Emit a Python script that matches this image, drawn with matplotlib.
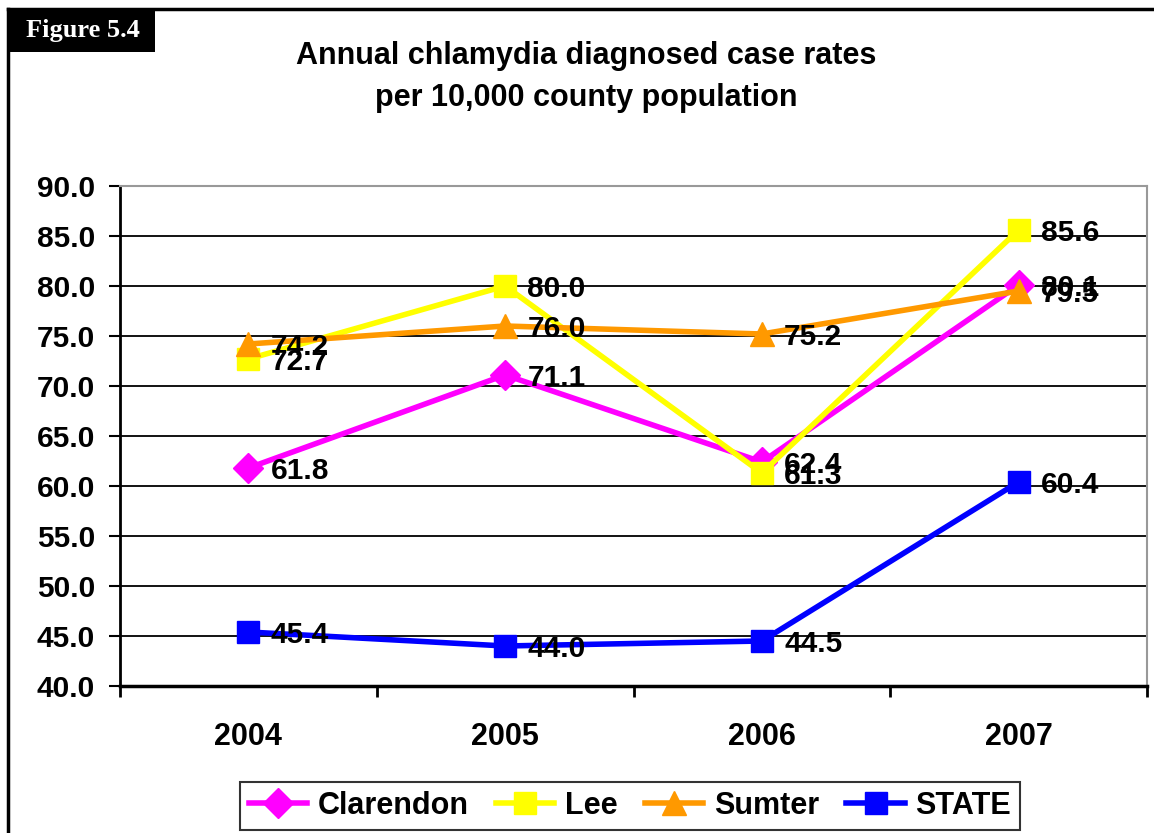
import numpy as np
import matplotlib.pyplot as plt
from matplotlib.lines import Line2D
from matplotlib.patches import Rectangle

plt.rcParams['font.family'] = ['Liberation Sans', 'DejaVu Sans']

anos = ['2004', '2005', '2006', '2007']
clarendon = [61.8, 71.1, 62.4, 80.1]
lee = [72.7, 80.0, 61.3, 85.6]
sumter = [74.2, 76.0, 75.2, 79.5]
state = [45.4, 44.0, 44.5, 60.4]

series = [
    ('Clarendon', clarendon, '#FF00FF', 'D', 15),
    ('Lee', lee, '#FFFF00', 's', 16),
    ('Sumter', sumter, '#FF9900', '^', 17),
    ('STATE', state, '#0000FF', 's', 16),
]

W, H = 1154, 833
fig = plt.figure(figsize=(W / 100, H / 100), dpi=100)
ax = fig.add_axes([120 / W, (H - 686) / H, 1027 / W, 500 / H])

x = np.arange(len(anos))
for nome, vals, cor, mk, ms in series:
    ax.plot(x, vals, color=cor, lw=4, marker=mk, markersize=ms,
            markeredgecolor=cor, label=nome, zorder=3, clip_on=False)

# rótulos de dados
for nome, vals, cor, mk, ms in series:
    for xi, v in zip(x, vals):
        ax.annotate('{:.1f}'.format(v), (xi, v), xytext=(16, -2),
                    textcoords='offset points', va='center', ha='left',
                    fontsize=21.5, fontweight='bold', color='black', zorder=5)

ax.set_xlim(-0.5, 3.5)
ax.set_ylim(40, 90)
ax.set_yticks(np.arange(40, 90.1, 5))
ax.set_yticklabels(['{:.1f}'.format(t) for t in np.arange(40, 90.1, 5)],
                   fontsize=21.5, fontweight='bold')
ax.set_xticks(x)
ax.set_xticklabels(anos, fontsize=22, fontweight='bold')
ax.set_xticks(np.arange(-0.5, 3.6, 1), minor=True)
ax.tick_params(axis='x', which='major', length=0, pad=26)
ax.tick_params(axis='x', which='minor', length=8, width=2, direction='out')
ax.tick_params(axis='y', length=8, width=1.5, direction='out', pad=10)

ax.grid(True, axis='y', color='black', lw=1.3, zorder=1)
ax.set_axisbelow(True)
ax.spines['left'].set_linewidth(2)
ax.spines['bottom'].set_linewidth(2.5)
ax.spines['top'].set_color('#999999')
ax.spines['right'].set_color('#999999')
ax.spines['top'].set_linewidth(1.5)
ax.spines['right'].set_linewidth(1.5)

fig.text(586 / W, 1 - 77 / H,
         'Annual chlamydia diagnosed case rates\nper 10,000 county population',
         ha='center', va='center', fontsize=22, fontweight='bold',
         linespacing=1.5)

# caixa "Figure 5.4"
fig.add_artist(Rectangle((10 / W, 1 - 52 / H), 145 / W, 42 / H,
                         transform=fig.transFigure, fc='black', ec='none'))
fig.text(83 / W, 1 - 31 / H, 'Figure 5.4', ha='center', va='center',
         color='white', fontsize=19, fontweight='bold',
         family=['Liberation Serif', 'DejaVu Serif'])

# moldura externa
fig.add_artist(Line2D([8 / W, 1], [1 - 9 / H, 1 - 9 / H], color='black', lw=2.5))
fig.add_artist(Line2D([8 / W, 8 / W], [0, 1 - 9 / H], color='black', lw=2.5))

leg = fig.legend(loc='center', bbox_to_anchor=(630 / W, 1 - 806 / H), ncol=4,
                 prop={'weight': 'bold', 'size': 22},
                 frameon=True, fancybox=False, edgecolor='black',
                 handlelength=1.9, handletextpad=0.35, columnspacing=0.9,
                 borderpad=0.3)
leg.get_frame().set_linewidth(1.5)

fig.savefig('out.png', dpi=100)
